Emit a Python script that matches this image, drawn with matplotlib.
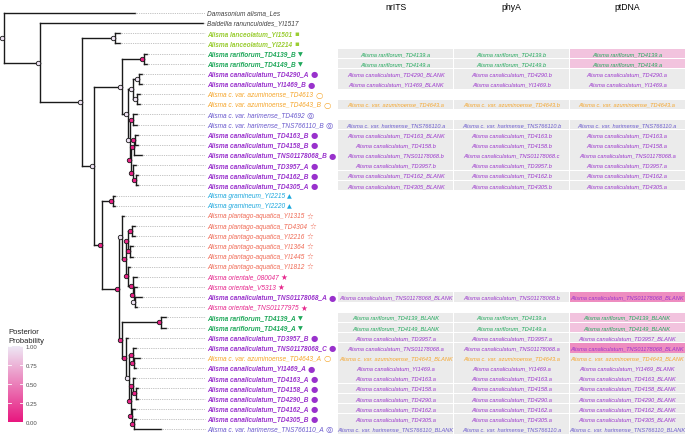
import matplotlib.pyplot as plt
from matplotlib.colors import LinearSegmentedColormap
import numpy as np

plt.rcParams['font.family'] = ['Liberation Sans', 'DejaVu Sans']

# ---- tree data (depth in arbitrary branch-length units, root = 0) ----
tip_names = [
    "Damasonium alisma_Les", "Baldellia ranunculoides_YI1517",
    "Alisma lanceolatum_YI1501", "Alisma lanceolatum_YI2214",
    "Alisma rariflorum_TD4139_B", "Alisma rariflorum_TD4149_B",
    "Alisma canaliculatum_TD4290_A", "Alisma canaliculatum_YI1469_B",
    "Alisma c. var. azuminoense_TD4613", "Alisma c. var. azuminoense_TD4643_B",
    "Alisma c. var. harimense_TD4692", "Alisma c. var. harimense_TNS766110_B",
    "Alisma canaliculatum_TD4163_B", "Alisma canaliculatum_TD4158_B",
    "Alisma canaliculatum_TNS01178068_B", "Alisma canaliculatum_TD3957_A",
    "Alisma canaliculatum_TD4162_B", "Alisma canaliculatum_TD4305_A",
    "Alisma gramineum_YI2215", "Alisma gramineum_YI2220",
    "Alisma plantago-aquatica_YI1315", "Alisma plantago-aquatica_TD4304",
    "Alisma plantago-aquatica_YI2216", "Alisma plantago-aquatica_YI1364",
    "Alisma plantago-aquatica_YI1445", "Alisma plantago-aquatica_YI1812",
    "Alisma orientale_080047", "Alisma orientale_V5313",
    "Alisma canaliculatum_TNS01178068_A", "Alisma orientale_TNS01177975",
    "Alisma rariflorum_TD4139_A", "Alisma rariflorum_TD4149_A",
    "Alisma canaliculatum_TD3957_B", "Alisma canaliculatum_TNS01178068_C",
    "Alisma c. var. azuminoense_TD4643_A", "Alisma canaliculatum_YI1469_A",
    "Alisma canaliculatum_TD4163_A", "Alisma canaliculatum_TD4158_A",
    "Alisma canaliculatum_TD4290_B", "Alisma canaliculatum_TD4162_A",
    "Alisma canaliculatum_TD4305_B", "Alisma c. var. harimense_TNS766110_A",
]
tip_group = [
    "out", "out", "lan", "lan", "rar", "rar", "can", "can", "azu", "azu",
    "har", "har", "can", "can", "can", "can", "can", "can", "gra", "gra",
    "pla", "pla", "pla", "pla", "pla", "pla", "ori", "ori", "can", "ori",
    "rar", "rar", "can", "can", "azu", "can", "can", "can", "can", "can",
    "can", "har",
]
tip_depth = [
    131, 199, 116, 116, 143, 143, 138, 138, 136, 136,
    133, 133, 134, 134, 138, 132, 134, 134, 111, 111,
    120, 131, 131, 129, 129, 126, 133, 133, 138, 133,
    162, 162, 124, 132, 136, 132, 131, 134, 134, 131,
    132, 157,
]

# internal nodes: children ids (tips are 0..41, nodes 42..), depth, posterior
node_kids = [
    (2, 3), (4, 5), (6, 7), (8, 9), (44, 45), (10, 11), (12, 13), (48, 14),
    (16, 17), (15, 50), (49, 51), (47, 52), (46, 53), (43, 54), (18, 19),
    (21, 22), (23, 24), (57, 58), (28, 29), (27, 60), (26, 61), (25, 62),
    (59, 63), (20, 64), (30, 31), (34, 35), (33, 67), (37, 38), (36, 69),
    (40, 41), (39, 71), (70, 72), (68, 73), (32, 74), (66, 75), (65, 76),
    (56, 77), (55, 78), (42, 79), (1, 80), (0, 81),
]
node_depth = [
    111, 140, 135, 133, 129, 129, 131, 130, 132, 129, 127, 126, 124, 118,
    109, 128, 126, 124, 131, 130, 129, 124, 122, 118, 157, 130, 129, 132,
    129, 130, 128, 127, 125, 122, 118, 115, 98, 90, 78, 36, 0,
]
node_pp = [
    0.98, 0.05, 0.97, 0.97, 0.97, 0.1, 0.05, 0.05, 0.05, 0.05, 0.05, 0.97,
    0.97, 0.97, 0.05, 0.05, 0.05, 0.1, 0.97, 0.05, 0.05, 0.05, 0.1, 0.97,
    0.05, 0.05, 0.05, 0.05, 0.05, 0.05, 0.05, 0.05, 0.97, 0.05, 0.1, 0.05,
    0.05, 0.97, 0.97, 0.97, 0.97,
]

# ---- table data ----
C = "Alisma canaliculatum_"
R = "Alisma rariflorum_"
AZ = "Alisma c. var. azuminoense_"
HA = "Alisma c. var. harimense_"
table_rows = [4, 5, 6, 7, 9, 11, 12, 13, 14, 15, 16, 17, 28,
              30, 31, 32, 33, 34, 35, 36, 37, 38, 39, 40, 41]
col_names = ["nrITS", "phyA", "ptDNA"]
nrits = [
    R + "TD4139.a", R + "TD4149.a", C + "TD4290_BLANK", C + "YI1469_BLANK",
    AZ + "TD4643.a", HA + "TNS766110.a", C + "TD4163_BLANK", C + "TD4158.b",
    C + "TNS01178068.b", C + "TD3957.b", C + "TD4162_BLANK", C + "TD4305_BLANK",
    C + "TNS01178068_BLANK", R + "TD4139_BLANK", R + "TD4149_BLANK",
    C + "TD3957.a", C + "TNS01178068.a", AZ + "TD4643_BLANK", C + "YI1469.a",
    C + "TD4163.a", C + "TD4158.a", C + "TD4290.a", C + "TD4162.a",
    C + "TD4305.a", HA + "TNS766110_BLANK",
]
phya = [
    R + "TD4139.b", R + "TD4149.b", C + "TD4290.b", C + "YI1469.b",
    AZ + "TD4643.b", HA + "TNS766110.b", C + "TD4163.b", C + "TD4158.b",
    C + "TNS01178068.c", C + "TD3957.b", C + "TD4162.b", C + "TD4305.b",
    C + "TNS01178068.b", R + "TD4139.a", R + "TD4149.a",
    C + "TD3957.a", C + "TNS01178068.a", AZ + "TD4643.a", C + "YI1469.a",
    C + "TD4163.a", C + "TD4158.a", C + "TD4290.a", C + "TD4162.a",
    C + "TD4305.a", HA + "TNS766110.a",
]
ptdna = [
    R + "TD4139.a", R + "TD4149.a", C + "TD4290.a", C + "YI1469.a",
    AZ + "TD4643.a", HA + "TNS766110.a", C + "TD4163.a", C + "TD4158.a",
    C + "TNS01178068.a", C + "TD3957.a", C + "TD4162.a", C + "TD4305.a",
    C + "TNS01178068_BLANK", R + "TD4139_BLANK", R + "TD4149_BLANK",
    C + "TD3957_BLANK", C + "TNS01178068_BLANK", AZ + "TD4643_BLANK",
    C + "YI1469_BLANK", C + "TD4163_BLANK", C + "TD4158_BLANK",
    C + "TD4290_BLANK", C + "TD4162_BLANK", C + "TD4305_BLANK",
    HA + "TNS766110_BLANK",
]
ptdna_fill = [1, 1, 0, 0, 0, 0, 0, 0, 0, 0, 0, 0, 2,
              1, 1, 0, 2, 0, 0, 0, 0, 0, 0, 0, 0]

# ---- styles ----
styles = {
    "out": ("#404040", "normal", "", 0),
    "lan": ("#9ACD32", "bold", "\u25AA", 5),
    "rar": ("#1FA85A", "bold", "\u25BC", 4.5),
    "can": ("#9932CC", "bold", "\u25CF", 6),
    "azu": ("#F5A52A", "normal", "\u25CB", 6),
    "har": ("#6A5ACD", "normal", "\u25CE", 6),
    "gra": ("#1EA8DE", "normal", "\u25B2", 4.5),
    "pla": ("#EF6A55", "normal", "\u2606", 5.5),
    "ori": ("#E6268C", "normal", "\u2605", 5.5),
}
cell_fills = ["#EBEBEB", "#F2C3DE", "#EE8DC0"]
pp_cmap = LinearSegmentedColormap.from_list("pp", ["#E8177F", "#EEE8F5"])

W, H = 685, 435
n_tips = len(tip_names)
spacing = 10.146
y_top = 1 - 14 / spacing
y_bot = 1 + (H - 14) / spacing

fig = plt.figure(figsize=(6.85, 4.35), dpi=100)

# ---- tree ----
ax = fig.add_axes([0, 0, 338 / W, 1])
ax.set_xlim(-4, 334)
ax.set_ylim(y_bot, y_top)
ax.axis("off")

ys = [i + 1 for i in range(n_tips)]
xs = list(tip_depth)
for kids, d in zip(node_kids, node_depth):
    ys.append(np.mean([ys[k] for k in kids]))
    xs.append(d)

for n, kids in enumerate(node_kids):
    nid = n_tips + n
    ky = [ys[k] for k in kids]
    ax.plot([xs[nid], xs[nid]], [min(ky), max(ky)], color="#1a1a1a", lw=1.0)
    for k in kids:
        ax.plot([xs[nid], xs[k]], [ys[k], ys[k]], color="#1a1a1a", lw=1.0)

for n, pp in enumerate(node_pp):
    nid = n_tips + n
    ax.plot(xs[nid] - 2.3, ys[nid], "o", ms=3.2, mfc=pp_cmap(pp),
            mec="#1a1a1a", mew=0.6, zorder=5)

label_x = 203
for i, name in enumerate(tip_names):
    color, weight, sym, ssize = styles[tip_group[i]]
    ax.plot([tip_depth[i], label_x - 2], [ys[i], ys[i]], color="#8a8a8a",
            lw=0.5, ls=(0, (1, 1.6)))
    t = ax.text(label_x, ys[i], name, fontsize=4.7, style="italic",
                weight=weight, color=color, va="center", ha="left")
    if sym:
        ax.annotate(sym, xy=(1, 0.5), xycoords=t, xytext=(1.5, 0),
                    textcoords="offset points", va="center", ha="left",
                    fontsize=ssize, color=color, family="DejaVu Sans")

# ---- table ----
tx = fig.add_axes([338 / W, 0, 1 - 338 / W, 1])
tx.set_xlim(0, 3)
tx.set_ylim(y_bot, y_top)
tx.axis("off")
for j, col in enumerate(col_names):
    tx.text(j + 0.5, 0.35, col, fontsize=6.2, ha="center", va="center",
            color="black")
for r, row in enumerate(table_rows):
    y = row + 1
    color = styles[tip_group[row]][0]
    cells = [nrits[r], phya[r], ptdna[r]]
    fills = [0, 0, ptdna_fill[r]]
    for j in range(3):
        tx.add_patch(plt.Rectangle((j + 0.003, y - 0.47), 0.994, 0.94,
                                   facecolor=cell_fills[fills[j]], lw=0))
        tx.text(j + 0.5, y, cells[j], fontsize=4.1, style="italic",
                color=color, ha="center", va="center")

# ---- posterior colour bar ----
cax = fig.add_axes([8 / W, (H - 423) / H, 15 / W, 76 / H])
cax.imshow(np.linspace(1, 0, 200)[:, None], aspect="auto", cmap=pp_cmap,
           extent=[0, 1, 0, 1])
ticks = [0, 0.25, 0.5, 0.75, 1.0]
for tk in ticks:
    cax.plot([0, 0.2], [tk, tk], color="white", lw=0.6)
    cax.plot([0.8, 1], [tk, tk], color="white", lw=0.6)
cax.set_xlim(0, 1)
cax.set_ylim(0, 1)
cax.set_xticks([])
cax.yaxis.tick_right()
cax.set_yticks(ticks)
cax.set_yticklabels([f"{tk:.2f}" for tk in ticks], fontsize=4.3,
                    color="#4d4d4d")
cax.tick_params(axis="y", length=0, pad=2)
for s in cax.spines.values():
    s.set_visible(False)
fig.text(8 / W, 1 - 345 / H, "Posterior\nProbability", fontsize=5.5,
         ha="left", va="bottom", linespacing=1.5, color="#222222")

fig.savefig("out.png", dpi=100)
